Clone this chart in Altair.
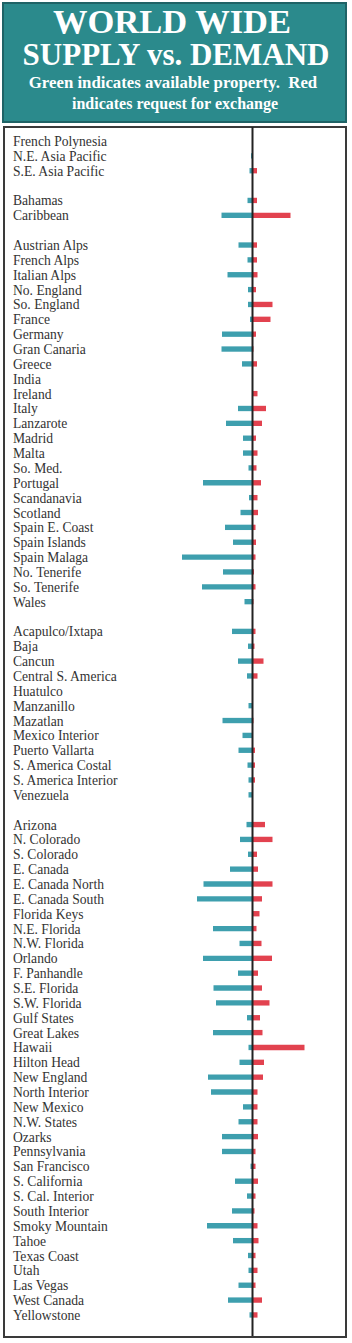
import altair as alt
import pandas as pd

# ---- data ----
group_pacific = ["French Polynesia", "N.E. Asia Pacific", "S.E. Asia Pacific"]
supply_pacific = [0, 1.5, 3]
demand_pacific = [0, 0, 4.5]

group_carib = ["Bahamas", "Caribbean"]
supply_carib = [5, 31]
demand_carib = [4.5, 38]

group_europe = ["Austrian Alps", "French Alps", "Italian Alps", "No. England", "So. England",
                "France", "Germany", "Gran Canaria", "Greece", "India", "Ireland", "Italy",
                "Lanzarote", "Madrid", "Malta", "So. Med.", "Portugal", "Scandanavia",
                "Scotland", "Spain E. Coast", "Spain Islands", "Spain Malaga", "No. Tenerife",
                "So. Tenerife", "Wales"]
supply_europe = [14, 5, 25, 4.5, 4.5, 2.5, 30.5, 31, 10.5, 0, 0, 14.5, 26.5, 9.5, 9.5, 4,
                 49.5, 3.5, 12, 27.5, 19.5, 70.5, 29.5, 50.5, 8]
demand_europe = [4.5, 4.5, 5, 3.5, 20, 18, 3.5, 1, 4.5, 0, 5, 13.5, 9.5, 3.5, 5, 4,
                 8.5, 5, 5.5, 3, 3.5, 3, 1.5, 3, 1]

group_latam = ["Acapulco/Ixtapa", "Baja", "Cancun", "Central S. America", "Huatulco",
               "Manzanillo", "Mazatlan", "Mexico Interior", "Puerto Vallarta",
               "S. America Costal", "S. America Interior", "Venezuela"]
supply_latam = [20.5, 4.5, 14.5, 5.5, 0, 4, 30, 10, 14, 5, 4, 4]
demand_latam = [3, 2, 11, 5, 0, 0, 1, 0, 2.5, 2.5, 2.5, 0]

group_na = ["Arizona", "N. Colorado", "S. Colorado", "E. Canada", "E. Canada North",
            "E. Canada South", "Florida Keys", "N.E. Florida", "N.W. Florida", "Orlando",
            "F. Panhandle", "S.E. Florida", "S.W. Florida", "Gulf States", "Great Lakes",
            "Hawaii", "Hilton Head", "New England", "North Interior", "New Mexico",
            "N.W. States", "Ozarks", "Pennsylvania", "San Francisco", "S. California",
            "S. Cal. Interior", "South Interior", "Smoky Mountain", "Tahoe", "Texas Coast",
            "Utah", "Las Vegas", "West Canada", "Yellowstone"]
supply_na = [6, 12.5, 4.5, 22.5, 49, 55.5, 0, 39.5, 13, 49.5, 14.5, 39, 36.5, 5.5, 39.5,
             4, 13, 44.5, 41.5, 9.5, 14, 30.5, 30.5, 2, 17.5, 5.5, 20.5, 45.5, 19.5, 4.5,
             4, 14, 24.5, 3]
demand_na = [12.5, 20, 4.5, 5.5, 20, 9.5, 7, 4, 9, 19.5, 5.5, 9.5, 17, 7.5, 10,
             52, 11.5, 10.5, 5, 5, 5, 5.5, 3, 3, 5.5, 3, 2, 5, 6, 3,
             5, 3, 9.5, 5]

title_lines = ["WORLD WIDE", "SUPPLY vs. DEMAND"]
subtitle_lines = ["Green indicates available property.\u00a0 Red", "indicates request for exchange"]

# ---- build table (blank row between groups) ----
groups = [
    (group_pacific, supply_pacific, demand_pacific),
    (group_carib, supply_carib, demand_carib),
    (group_europe, supply_europe, demand_europe),
    (group_latam, supply_latam, demand_latam),
    (group_na, supply_na, demand_na),
]
rows = []
idx = 0
for gi, (names, sup, dem) in enumerate(groups):
    if gi > 0:
        idx += 1
    for n, s, d in zip(names, sup, dem):
        rows.append({"name": n, "row": idx, "supply": s, "demand": d})
        idx += 1
df = pd.DataFrame(rows)

W, H = 352, 1343
CENTER = 252.5
PITCH = 14.86
ROW0 = 141.0
xscale = alt.Scale(domain=[-CENTER, W - CENTER], range=[0, W], nice=False, zero=False)
yscale = alt.Scale(domain=[-ROW0 / PITCH, (H - ROW0) / PITCH], range=[0, H],
                   nice=False, zero=False)

one = pd.DataFrame({"k": [0]})

title_box = alt.Chart(one).mark_rect(fill="#2b8a8c", stroke="#1f6366", strokeWidth=2).encode(
    x=alt.value(3), x2=alt.value(346), y=alt.value(3), y2=alt.value(122))


def title_text(t, size, xpos, ypos):
    return alt.Chart(pd.DataFrame({"t": [t]})).mark_text(
        font="Liberation Serif", fontWeight="bold", fontSize=size, color="white",
        align="center", baseline="alphabetic").encode(
        text="t:N", x=alt.value(xpos), y=alt.value(ypos))


t1 = title_text(title_lines[0], 34.5, 172, 33)
t2 = title_text(title_lines[1], 31, 176, 65)
s1 = title_text(subtitle_lines[0], 16.8, 173, 88)
s2 = title_text(subtitle_lines[1], 16, 175, 109)

frame = alt.Chart(one).mark_rect(fill="white", stroke="#3a3a3a", strokeWidth=2).encode(
    x=alt.value(4), x2=alt.value(346), y=alt.value(127), y2=alt.value(1337))

base = alt.Chart(df).transform_calculate(
    neg="-datum.supply", zero="0", y0="datum.row - 0.18", y1="datum.row + 0.18")

supply_bars = base.transform_filter("datum.supply > 0").mark_rect(color="#3e9fae").encode(
    x=alt.X("neg:Q", scale=xscale, axis=None), x2="zero:Q",
    y=alt.Y("y0:Q", scale=yscale, axis=None), y2="y1:Q")

demand_bars = base.transform_filter("datum.demand > 0").mark_rect(color="#e2424f").encode(
    x=alt.X("zero:Q", scale=xscale, axis=None), x2="demand:Q",
    y=alt.Y("y0:Q", scale=yscale, axis=None), y2="y1:Q")

center_line = alt.Chart(one).transform_calculate(zero="0").mark_rule(
    color="#222222", strokeWidth=2).encode(
    x=alt.X("zero:Q", scale=xscale, axis=None), y=alt.value(127), y2=alt.value(1336))

labels = alt.Chart(df).mark_text(
    font="Liberation Serif", fontSize=13.6, color="#333333", align="left",
    baseline="alphabetic", dy=5).encode(
    text="name:N", x=alt.value(13),
    y=alt.Y("row:Q", scale=yscale, axis=None))

chart = alt.layer(title_box, t1, t2, s1, s2, frame, supply_bars, demand_bars,
                  center_line, labels).properties(
    width=W, height=H, padding=0,
    autosize=alt.AutoSizeParams(type="fit", contains="padding"),
    background="white",
).configure_view(stroke=None)

chart.save("out.html", embed_options={"renderer": "svg", "actions": False})
